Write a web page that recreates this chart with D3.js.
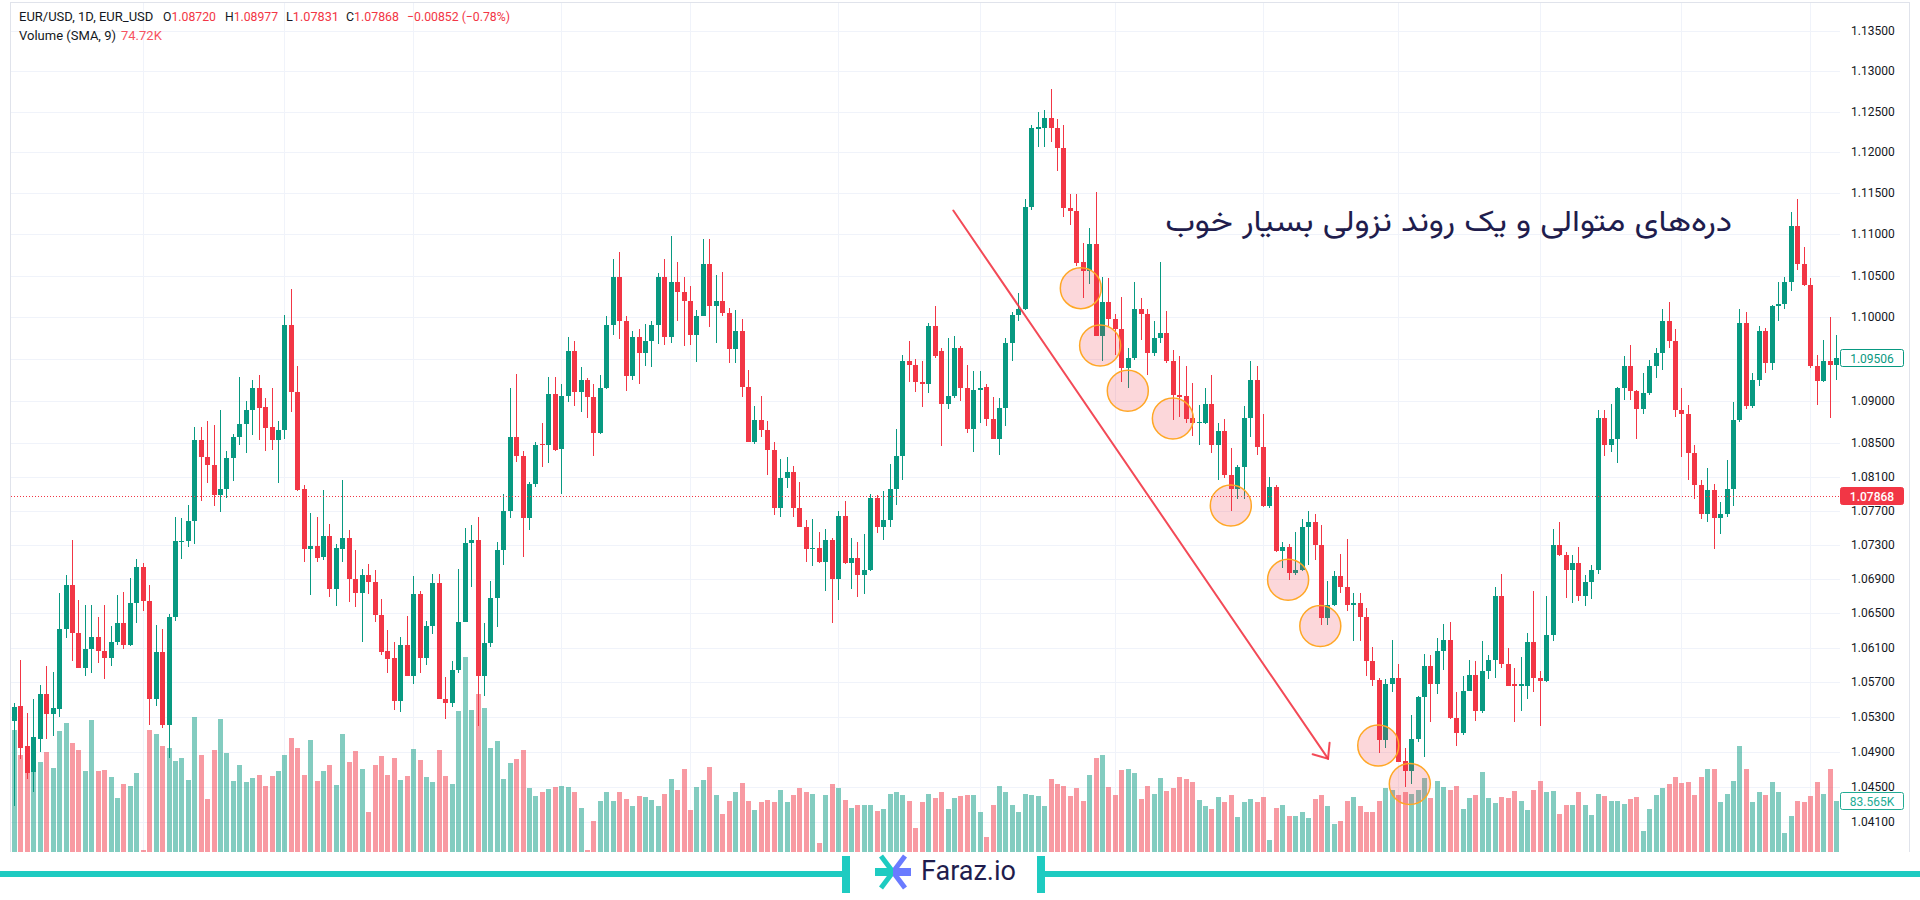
<!DOCTYPE html>
<html><head><meta charset="utf-8">
<script src="https://cdn.jsdelivr.net/npm/d3@7"></script>
<style>
html,body{margin:0;padding:0;background:#fff;}
svg{display:block;}
</style></head><body>
<svg id="chart" width="1920" height="900"></svg>
<script>
// ---------------- DATA ----------------
const opens = [
1.0525,1.0542,1.0496,1.0467,1.0505,1.0556,1.0533,1.0539,1.0632,1.0683,
1.0627,1.0586,1.0608,1.0622,1.0606,1.0598,1.0617,1.0638,1.0613,1.0662,
1.0704,1.0664,1.0550,1.0605,1.0521,1.0645,1.0733,1.0734,1.0758,1.0853,
1.0833,1.0824,1.0788,1.0795,1.0832,1.0857,1.0872,1.0889,1.0915,1.0893,
1.0869,1.0853,1.0865,1.0991,1.0910,1.0795,1.0725,1.0728,1.0716,1.0740,
1.0678,1.0725,1.0738,1.0690,1.0674,1.0695,1.0686,1.0648,1.0606,1.0598,
1.0548,1.0613,1.0577,1.0672,1.0598,1.0635,1.0685,1.0551,1.0546,1.0584,
1.0640,1.0732,1.0735,1.0577,1.0615,1.0668,1.0724,1.0770,1.0857,1.0834,
1.0761,1.0801,1.0849,1.0847,1.0908,1.0843,1.0906,1.0959,1.0910,1.0925,
1.0904,1.0862,1.0915,1.0991,1.1049,1.0995,1.0929,1.0976,1.0957,1.0972,
1.0991,1.1048,1.0976,1.1043,1.1030,1.1019,1.0979,1.1002,1.1064,1.1014,
1.1020,1.1005,1.0962,1.0984,1.0917,1.0851,1.0877,1.0865,1.0841,1.0773,
1.0809,1.0815,1.0773,1.0751,1.0725,1.0726,1.0710,1.0735,1.0690,1.0764,
1.0708,1.0714,1.0694,1.0700,1.0785,1.0751,1.0759,1.0795,1.0834,1.0947,
1.0943,1.0923,1.0920,1.0989,1.0959,1.0896,1.0906,1.0963,1.0915,1.0866,
1.0913,1.0916,1.0878,1.0854,1.0892,1.0969,1.1003,1.1010,1.1133,1.1229,
1.1230,1.1242,1.1230,1.1205,1.1132,1.1129,1.1066,1.1056,1.1088,1.0978,
1.1018,1.0998,1.0986,1.0939,1.0951,1.1010,1.1004,1.0957,1.0975,1.0981,
1.0947,1.0907,1.0906,1.0880,1.0874,1.0874,1.0896,1.0848,1.0864,1.0812,
1.0795,1.0821,1.0880,1.0925,1.0845,1.0775,1.0798,1.0723,1.0727,1.0697,
1.0700,1.0751,1.0757,1.0730,1.0644,1.0660,1.0693,1.0680,1.0660,1.0662,
1.0646,1.0594,1.0572,1.0503,1.0568,1.0575,1.0479,1.0468,1.0505,1.0553,
1.0589,1.0568,1.0606,1.0619,1.0529,1.0511,1.0560,1.0578,1.0537,1.0583,
1.0596,1.0670,1.0591,1.0568,1.0565,1.0566,1.0617,1.0575,1.0571,1.0624,
1.0729,1.0718,1.0700,1.0709,1.0670,1.0686,1.0700,1.0880,1.0848,1.0854,
1.0915,1.0942,1.0912,1.0890,1.0909,1.0942,1.0957,1.0996,1.0971,1.0889,
1.0884,1.0838,1.0800,1.0766,1.0794,1.0761,1.0766,1.0795,1.0877,1.0993,
1.0894,1.0925,1.0983,1.0945,1.1014,1.1016,1.1043,1.1110,1.1064,1.1039,
1.0941,1.0924,1.0947,1.0943];
const highs = [
1.0546,1.0596,1.0534,1.0550,1.0567,1.0589,1.0582,1.0674,1.0695,1.0736,
1.0665,1.0659,1.0659,1.0646,1.0660,1.0635,1.0671,1.0675,1.0691,1.0713,
1.0709,1.0683,1.0636,1.0632,1.0649,1.0762,1.0761,1.0777,1.0869,1.0869,
1.0876,1.0871,1.0889,1.0840,1.0860,1.0928,1.0900,1.0925,1.0931,1.0903,
1.0915,1.0876,1.1003,1.1034,1.0942,1.0800,1.0767,1.0762,1.0794,1.0754,
1.0731,1.0806,1.0747,1.0724,1.0701,1.0707,1.0700,1.0667,1.0630,1.0616,
1.0622,1.0647,1.0693,1.0676,1.0641,1.0696,1.0696,1.0576,1.0594,1.0702,
1.0750,1.0753,1.0762,1.0638,1.0687,1.0733,1.0790,1.0915,1.0932,1.0840,
1.0804,1.0851,1.0873,1.0928,1.0928,1.0920,1.0976,1.0972,1.0940,1.0927,
1.0920,1.0931,1.1002,1.1070,1.1079,1.1002,1.0984,1.0986,1.0992,1.0995,
1.1053,1.1070,1.1098,1.1066,1.1048,1.1037,1.1009,1.1094,1.1094,1.1051,
1.1055,1.1011,1.1009,1.0998,1.0937,1.0894,1.0906,1.0876,1.0851,1.0831,
1.0833,1.0823,1.0804,1.0759,1.0760,1.0745,1.0748,1.0738,1.0770,1.0781,
1.0738,1.0733,1.0742,1.0789,1.0788,1.0793,1.0825,1.0867,1.0955,1.0972,
1.0950,1.0948,1.0993,1.1013,1.0963,1.0975,1.0977,1.0966,1.0943,1.0936,
1.0935,1.0920,1.0904,1.0903,1.0975,1.1006,1.1029,1.1143,1.1233,1.1249,
1.1252,1.1278,1.1241,1.1233,1.1149,1.1149,1.1089,1.1108,1.1152,1.1049,
1.1047,1.1004,1.1024,1.0963,1.1043,1.1023,1.1010,1.0995,1.1066,1.1007,
1.0961,1.0954,1.0942,1.0921,1.0895,1.0915,1.0931,1.0874,1.0878,1.0844,
1.0824,1.0894,1.0947,1.0942,1.0884,1.0810,1.0800,1.0733,1.0731,1.0745,
1.0760,1.0769,1.0766,1.0753,1.0687,1.0699,1.0719,1.0737,1.0674,1.0674,
1.0656,1.0611,1.0575,1.0574,1.0619,1.0591,1.0494,1.0532,1.0554,1.0603,
1.0601,1.0621,1.0637,1.0640,1.0559,1.0577,1.0596,1.0594,1.0618,1.0601,
1.0680,1.0696,1.0609,1.0586,1.0599,1.0627,1.0676,1.0583,1.0670,1.0748,
1.0757,1.0721,1.0718,1.0727,1.0695,1.0706,1.0889,1.0889,1.0896,1.0916,
1.0953,1.0967,1.0913,1.0933,1.0949,1.0963,1.1010,1.1018,1.0986,1.0915,
1.0895,1.0848,1.0806,1.0820,1.0801,1.0780,1.0830,1.0898,1.1010,1.1006,
1.0933,1.0989,1.0987,1.1015,1.1043,1.1049,1.1127,1.1143,1.1085,1.1047,
1.0955,1.0973,1.1000,1.0979];
const lows = [
1.0428,1.0481,1.0459,1.0444,1.0490,1.0505,1.0508,1.0530,1.0621,1.0594,
1.0586,1.0577,1.0581,1.0592,1.0574,1.0589,1.0613,1.0608,1.0612,1.0639,
1.0652,1.0521,1.0543,1.0517,1.0483,1.0641,1.0713,1.0727,1.0731,1.0781,
1.0803,1.0775,1.0768,1.0785,1.0805,1.0847,1.0838,1.0859,1.0853,1.0840,
1.0841,1.0803,1.0854,1.0887,1.0793,1.0710,1.0671,1.0710,1.0712,1.0669,
1.0658,1.0710,1.0663,1.0657,1.0616,1.0672,1.0640,1.0601,1.0580,1.0538,
1.0535,1.0577,1.0568,1.0580,1.0590,1.0626,1.0550,1.0528,1.0541,1.0580,
1.0640,1.0681,1.0519,1.0554,1.0611,1.0634,1.0706,1.0761,1.0827,1.0716,
1.0747,1.0798,1.0821,1.0826,1.0840,1.0790,1.0899,1.0894,1.0887,1.0879,
1.0835,1.0861,1.0914,1.0979,1.0974,1.0912,1.0925,1.0920,1.0942,1.0940,
1.0968,1.0967,1.0969,1.0995,1.0966,1.0967,1.0946,1.1002,1.0988,1.0969,
1.1002,1.0945,1.0945,1.0905,1.0851,1.0849,1.0857,1.0812,1.0765,1.0763,
1.0797,1.0763,1.0751,1.0710,1.0705,1.0708,1.0676,1.0638,1.0665,1.0707,
1.0678,1.0669,1.0672,1.0699,1.0744,1.0736,1.0751,1.0776,1.0806,1.0922,
1.0910,1.0893,1.0909,1.0951,1.0846,1.0890,1.0903,1.0900,1.0862,1.0839,
1.0874,1.0870,1.0854,1.0836,1.0870,1.0947,1.0995,1.1009,1.1130,1.1207,
1.1207,1.1213,1.1177,1.1121,1.1112,1.1062,1.1023,1.1040,1.0977,1.0947,
1.0990,1.0955,1.0923,1.0915,1.0949,1.0973,1.0931,1.0953,1.0969,1.0945,
1.0877,1.0881,1.0874,1.0858,1.0848,1.0872,1.0838,1.0806,1.0809,1.0769,
1.0784,1.0784,1.0857,1.0836,1.0774,1.0773,1.0721,1.0703,1.0689,1.0695,
1.0699,1.0706,1.0712,1.0636,1.0636,1.0658,1.0674,1.0652,1.0618,1.0618,
1.0577,1.0565,1.0489,1.0494,1.0559,1.0478,1.0450,1.0453,1.0501,1.0484,
1.0524,1.0556,1.0584,1.0528,1.0497,1.0509,1.0560,1.0525,1.0534,1.0574,
1.0575,1.0586,1.0566,1.0524,1.0537,1.0550,1.0559,1.0519,1.0570,1.0618,
1.0717,1.0668,1.0662,1.0664,1.0658,1.0666,1.0696,1.0834,1.0839,1.0826,
1.0901,1.0901,1.0854,1.0884,1.0907,1.0927,1.0937,1.0963,1.0881,1.0833,
1.0806,1.0784,1.0760,1.0757,1.0725,1.0743,1.0763,1.0775,1.0875,1.0890,
1.0892,1.0918,1.0933,1.0937,1.0996,1.1010,1.1031,1.1057,1.1037,1.0939,
1.0895,1.0923,1.0880,1.0925];
const closes = [
1.0541,1.0494,1.0466,1.0507,1.0556,1.0533,1.0540,1.0632,1.0683,1.0627,
1.0586,1.0608,1.0622,1.0606,1.0598,1.0617,1.0638,1.0613,1.0662,1.0704,
1.0664,1.0550,1.0605,1.0521,1.0645,1.0734,1.0734,1.0758,1.0853,1.0833,
1.0824,1.0788,1.0795,1.0832,1.0857,1.0872,1.0889,1.0915,1.0892,1.0868,
1.0853,1.0865,1.0991,1.0910,1.0794,1.0725,1.0728,1.0714,1.0740,1.0678,
1.0726,1.0738,1.0690,1.0674,1.0695,1.0686,1.0648,1.0605,1.0597,1.0548,
1.0613,1.0577,1.0672,1.0598,1.0635,1.0685,1.0551,1.0546,1.0584,1.0640,
1.0732,1.0735,1.0577,1.0615,1.0668,1.0724,1.0770,1.0857,1.0834,1.0761,
1.0801,1.0848,1.0847,1.0908,1.0842,1.0906,1.0959,1.0910,1.0925,1.0904,
1.0862,1.0915,1.0991,1.1049,1.0995,1.0929,1.0976,1.0957,1.0972,1.0991,
1.1048,1.0976,1.1043,1.1030,1.1019,1.0979,1.1002,1.1064,1.1014,1.1020,
1.1005,1.0962,1.0984,1.0917,1.0851,1.0877,1.0865,1.0841,1.0773,1.0809,
1.0815,1.0773,1.0751,1.0725,1.0726,1.0710,1.0735,1.0690,1.0764,1.0708,
1.0714,1.0694,1.0700,1.0785,1.0751,1.0759,1.0795,1.0834,1.0947,1.0943,
1.0922,1.0920,1.0989,1.0954,1.0896,1.0906,1.0963,1.0915,1.0866,1.0913,
1.0915,1.0878,1.0854,1.0892,1.0969,1.1003,1.1010,1.1133,1.1230,1.1231,
1.1242,1.1230,1.1205,1.1132,1.1129,1.1065,1.1056,1.1088,1.0978,1.1018,
1.0998,1.0986,1.0939,1.0951,1.1010,1.1004,1.0957,1.0975,1.0981,1.0947,
1.0907,1.0904,1.0878,1.0874,1.0875,1.0896,1.0848,1.0864,1.0812,1.0795,
1.0821,1.0880,1.0925,1.0845,1.0775,1.0798,1.0723,1.0727,1.0697,1.0700,
1.0751,1.0757,1.0730,1.0644,1.0660,1.0693,1.0680,1.0660,1.0662,1.0646,
1.0594,1.0572,1.0503,1.0568,1.0575,1.0478,1.0468,1.0505,1.0553,1.0589,
1.0568,1.0606,1.0619,1.0529,1.0511,1.0560,1.0578,1.0537,1.0583,1.0596,
1.0670,1.0591,1.0566,1.0565,1.0568,1.0617,1.0575,1.0571,1.0624,1.0729,
1.0718,1.0700,1.0709,1.0670,1.0686,1.0700,1.0880,1.0848,1.0854,1.0915,
1.0942,1.0912,1.0890,1.0909,1.0942,1.0957,1.0996,1.0971,1.0889,1.0884,
1.0838,1.0800,1.0766,1.0794,1.0761,1.0766,1.0795,1.0877,1.0993,1.0894,
1.0925,1.0983,1.0945,1.1014,1.1016,1.1043,1.1110,1.1064,1.1039,1.0941,
1.0924,1.0947,1.0943,1.09506];
const volumes = [ // thousands
201,160,135,132,148,164,138,198,212,179,
167,133,217,133,135,123,89,112,108,129,
3,201,194,174,171,149,154,118,221,160,
87,168,219,162,116,142,115,121,126,108,
124,133,159,187,171,127,184,116,133,143,
110,194,148,165,136,65,143,158,127,154,
118,125,169,151,123,115,168,125,112,232,
320,233,260,237,171,182,120,146,153,167,
105,92,98,103,107,109,107,99,72,3,
51,84,98,84,98,87,75,92,91,85,
75,96,120,101,136,69,106,118,140,94,
62,84,99,113,84,69,82,85,82,101,
82,94,105,98,96,15,94,112,105,85,
72,77,77,77,67,70,96,98,93,83,
39,82,96,88,98,71,88,92,94,94,
66,25,77,108,98,77,65,96,94,92,
76,119,112,109,92,105,83,127,154,159,
107,94,134,137,129,87,108,96,121,100,
105,123,119,115,86,75,71,90,82,94,
58,82,87,82,90,20,73,77,59,59,
65,55,87,94,75,46,51,84,90,75,
65,65,83,105,102,94,98,96,101,121,
88,116,107,102,108,71,88,94,132,88,
80,90,88,100,84,69,101,117,98,100,
62,77,77,98,77,61,96,92,84,84,
79,87,90,35,71,94,105,112,123,113,
115,94,123,136,136,82,96,117,174,136,
82,98,94,115,98,31,59,84,82,92,
115,96,136,83.565];

const priceTicks = [1.135,1.13,1.125,1.12,1.115,1.11,1.105,1.10,1.095,1.09,1.085,
                    1.081,1.077,1.073,1.069,1.065,1.061,1.057,1.053,1.049,1.045,1.041,1.037];
const monthStartIdx = [20,42,62,85,105,128,150,171,194,215,237,259,279];

// annotations (in data units: bar index, price)
const swingLowIdx   = [165.7,168.7,173.0,180.0,189.0,197.9,202.9,211.9,216.8];
const swingLowPrice = [1.1035,1.0966,1.0912,1.0879,1.0776,1.0689,1.0635,1.0497,1.0453];
const trendIdx   = [145.9, 204.1];
const trendPrice = [1.1129, 1.0482];
const noteIdx = 178.8, notePrice = 1.1104;
const noteText = "دره\u200cهای متوالی و یک روند نزولی بسیار خوب";

const lastClose = 1.09506, priceLine = 1.07868, lastVolume = 83.565;
const legendMain = "EUR/USD, 1D, EUR_USD";
const legendOHLC = [["O","1.08720"],["H","1.08977"],["L","1.07831"],["C","1.07868"]];
const legendChange = "\u22120.00852 (\u22120.78%)";
const legendVol = "Volume (SMA, 9)", legendVolVal = "74.72K";

// ---------------- DRAW ----------------
const N = closes.length;
const UP = "#089981", DOWN = "#F23645";
const FONT = "Roboto, 'Liberation Sans', Arial, sans-serif";
const svg = d3.select("#chart");
const plotL = 11, plotR = 1840, plotB = 852;

const x = d3.scaleLinear().domain([0, N - 1]).range([14, 1836]);
const y = d3.scaleLog().domain([1.041, 1.135]).range([821.7, 30.6]);
const yVol = d3.scaleLinear().domain([0, 320]).range([plotB, plotB - 195]);
const isUp = i => closes[i] >= opens[i];
const px = i => Math.round(x(i));

// frame
svg.append("rect").attr("x", 10.5).attr("y", 2.5).attr("width", 1899).attr("height", 880)
  .attr("fill", "none").attr("stroke", "#e0e3eb");

// grid
const grid = svg.append("g").attr("shape-rendering", "crispEdges");
grid.selectAll("line.h").data(priceTicks).join("line").attr("class", "h")
  .attr("x1", plotL).attr("x2", plotR)
  .attr("y1", d => Math.round(y(d)) + 0.5).attr("y2", d => Math.round(y(d)) + 0.5)
  .attr("stroke", "#f0f3fa");
grid.selectAll("line.v").data(monthStartIdx).join("line").attr("class", "v")
  .attr("x1", d => px(d) + 0.5).attr("x2", d => px(d) + 0.5)
  .attr("y1", 3).attr("y2", plotB)
  .attr("stroke", "#f0f3fa");

// volume
svg.append("g").attr("shape-rendering", "crispEdges")
  .selectAll("rect").data(d3.range(N)).join("rect")
  .attr("x", i => px(i) - 2).attr("width", 5)
  .attr("y", i => yVol(volumes[i])).attr("height", i => plotB - yVol(volumes[i]))
  .attr("fill", i => isUp(i) ? "rgba(8,153,129,0.5)" : "rgba(242,54,69,0.5)");

// candles
const cg = svg.append("g").attr("shape-rendering", "crispEdges");
cg.selectAll("line").data(d3.range(N)).join("line")
  .attr("x1", i => px(i) + 0.5).attr("x2", i => px(i) + 0.5)
  .attr("y1", i => y(Math.max(highs[i], opens[i], closes[i])))
  .attr("y2", i => y(Math.min(lows[i], opens[i], closes[i])))
  .attr("stroke", i => isUp(i) ? UP : DOWN).attr("stroke-width", 1);
cg.selectAll("rect").data(d3.range(N)).join("rect")
  .attr("x", i => px(i) - 2).attr("width", 5)
  .attr("y", i => y(Math.max(opens[i], closes[i])))
  .attr("height", i => Math.max(1, y(Math.min(opens[i], closes[i])) - y(Math.max(opens[i], closes[i]))))
  .attr("fill", i => isUp(i) ? UP : DOWN);

// price line (dotted)
svg.append("line").attr("x1", plotL).attr("x2", plotR)
  .attr("y1", Math.round(y(priceLine)) + 0.5).attr("y2", Math.round(y(priceLine)) + 0.5)
  .attr("stroke", DOWN).attr("stroke-width", 1).attr("stroke-dasharray", "1,2");

// trend arrow
const ax1 = x(trendIdx[0]), ay1 = y(trendPrice[0]), ax2 = x(trendIdx[1]), ay2 = y(trendPrice[1]);
const ang = Math.atan2(ay2 - ay1, ax2 - ax1), back = ang + Math.PI, al = 16, spread = 40 * Math.PI / 180;
const ag = svg.append("g").attr("stroke", "#f23645").attr("stroke-width", 2).attr("fill", "none")
  .attr("stroke-linecap", "round").attr("stroke-opacity", 0.9);
ag.append("line").attr("x1", ax1).attr("y1", ay1).attr("x2", ax2).attr("y2", ay2);
ag.append("path").attr("d",
  `M${ax2 + al * Math.cos(back - spread)},${ay2 + al * Math.sin(back - spread)}L${ax2},${ay2}L${ax2 + al * Math.cos(back + spread)},${ay2 + al * Math.sin(back + spread)}`);

// swing-low circles
svg.append("g").selectAll("circle").data(d3.range(swingLowIdx.length)).join("circle")
  .attr("cx", i => x(swingLowIdx[i])).attr("cy", i => y(swingLowPrice[i])).attr("r", 20.5)
  .attr("fill", "rgba(242,54,69,0.2)").attr("stroke", "#ffa726").attr("stroke-width", 1.5);

// annotation text
svg.append("text").attr("x", x(noteIdx)).attr("y", y(notePrice))
  .attr("font-family", "Vazirmatn, 'DejaVu Sans', sans-serif").attr("font-size", 30)
  .attr("fill", "#1f1d4d").attr("textLength", 567).attr("lengthAdjust", "spacingAndGlyphs")
  .text(noteText);

// price axis labels
const fmt = d3.format(".5f");
svg.append("g").selectAll("text")
  .data(priceTicks.filter(t => Math.abs(y(t) - y(lastClose)) > 10))
  .join("text")
  .attr("x", 1851).attr("y", d => y(d)).attr("dominant-baseline", "central")
  .attr("font-family", FONT).attr("font-size", 12).attr("fill", "#131722")
  .text(d => fmt(d));

function priceBox(yy, label, fill, stroke, color) {
  const g = svg.append("g");
  g.append("rect").attr("x", 1840.5).attr("y", Math.round(yy) - 8.5).attr("width", 63).attr("height", 17)
    .attr("rx", 2).attr("fill", fill).attr("stroke", stroke);
  g.append("text").attr("x", 1872).attr("y", yy + 0.5).attr("text-anchor", "middle")
    .attr("dominant-baseline", "central").attr("font-family", FONT).attr("font-size", 12)
    .attr("font-weight", fill === "#fff" ? 400 : 500)
    .attr("fill", color).text(label);
}
priceBox(y(lastClose), fmt(lastClose), "#fff", UP, UP);
priceBox(y(priceLine), fmt(priceLine), DOWN, DOWN, "#fff");
priceBox(yVol(lastVolume), d3.format(".3f")(lastVolume) + "K", "#fff", "#22ab94", "#22ab94");

// legend
const lg = svg.append("g").attr("font-family", FONT).attr("font-size", 13);
lg.append("text").attr("x", 19).attr("y", 16).attr("dominant-baseline", "central").attr("fill", "#131722").text(legendMain);
const lx = [163, 225, 286, 346];
legendOHLC.forEach((d, k) => {
  const t = lg.append("text").attr("x", lx[k]).attr("y", 16).attr("dominant-baseline", "central")
    .attr("textLength", 53).attr("lengthAdjust", "spacingAndGlyphs");
  t.append("tspan").attr("fill", "#131722").text(d[0]);
  t.append("tspan").attr("fill", DOWN).text(d[1]);
});
lg.append("text").attr("x", 407).attr("y", 16).attr("dominant-baseline", "central").attr("fill", DOWN)
  .attr("textLength", 103).attr("lengthAdjust", "spacingAndGlyphs").text(legendChange);
lg.append("text").attr("x", 19).attr("y", 35).attr("dominant-baseline", "central").attr("fill", "#131722").text(legendVol);
lg.append("text").attr("x", 121).attr("y", 35).attr("dominant-baseline", "central").attr("fill", "#f7525f").text(legendVolVal);

// bottom brand band
const TEAL = "#1ecbc1", BLUE = "#6a7bff";
svg.append("rect").attr("x", 0).attr("y", plotB).attr("width", 1920).attr("height", 900 - plotB).attr("fill", "#fff");
svg.append("rect").attr("x", 0).attr("y", 871).attr("width", 843).attr("height", 6).attr("fill", TEAL);
svg.append("rect").attr("x", 1044).attr("y", 871).attr("width", 876).attr("height", 6).attr("fill", TEAL);
svg.append("rect").attr("x", 842).attr("y", 856).attr("width", 8).attr("height", 37).attr("fill", TEAL);
svg.append("rect").attr("x", 1037).attr("y", 856).attr("width", 8).attr("height", 37).attr("fill", TEAL);
const logo = svg.append("g");
logo.append("path").attr("d", "M881,856 L893,872 L881,888").attr("fill", "none").attr("stroke", TEAL).attr("stroke-width", 5);
logo.append("path").attr("d", "M905,856 L893,872 L905,888").attr("fill", "none").attr("stroke", BLUE).attr("stroke-width", 5);
logo.append("rect").attr("x", 875).attr("y", 868).attr("width", 18).attr("height", 8).attr("fill", TEAL);
logo.append("rect").attr("x", 893).attr("y", 868).attr("width", 18).attr("height", 8).attr("fill", BLUE);
svg.append("text").attr("x", 921).attr("y", 880).attr("font-family", FONT).attr("font-size", 27)
  .attr("fill", "#1f1d4d").text("Faraz.io");
</script>
</body></html>
